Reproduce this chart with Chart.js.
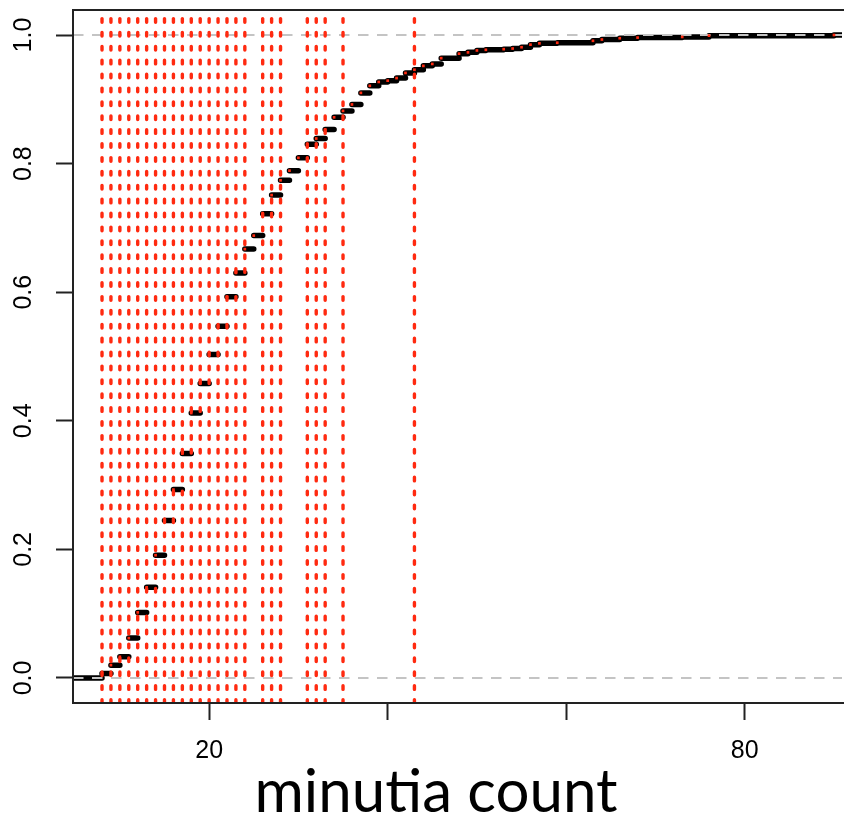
<!DOCTYPE html>
<html><head><meta charset="utf-8">
<script src="https://cdn.jsdelivr.net/npm/chart.js@4/dist/chart.umd.min.js"></script>
<style>html,body{margin:0;padding:0;background:#fff;} canvas{display:block;}</style>
</head><body>
<canvas id="c" width="846" height="823"></canvas>
<script>
// ECDF jump positions (minutia count) and cumulative proportions
const stepX = [8,9,10,11,12,13,14,15,16,17,18,19,20,21,22,23,24,25,26,27,28,29,30,31,32,33,34,35,36,37,38,39,40,41,42,43,44,45,46,48,49,50,51,53,54,55,56,57,59,63,64,66,68,73,76,90];
const stepY = [0.007,0.020,0.033,0.062,0.102,0.141,0.191,0.245,0.293,0.349,0.412,0.458,0.503,0.547,0.593,0.630,0.667,0.688,0.722,0.751,0.774,0.789,0.809,0.830,0.839,0.853,0.872,0.882,0.892,0.910,0.921,0.927,0.929,0.933,0.941,0.946,0.952,0.955,0.964,0.971,0.973,0.976,0.977,0.978,0.979,0.981,0.985,0.987,0.988,0.991,0.993,0.995,0.996,0.997,0.999,1.000];
// red dotted vertical marker lines
const markerX = [8,9,10,11,12,13,14,15,16,17,18,19,20,21,22,23,24,26,27,28,31,32,33,35,43];
// reference lines (gray dashed)
const refLines = [0, 1];
const xTicks = [20, 40, 60, 80];
const xTickLabels = ['20', '', '', '80'];
const yTicks = [0, 0.2, 0.4, 0.6, 0.8, 1.0];
const yTickLabels = ['0.0', '0.2', '0.4', '0.6', '0.8', '1.0'];
const xLabel = 'minutia count';
const X_MIN = 4.75, X_MAX = 90.9, Y_MIN = -0.0389, Y_MAX = 1.0389;

const RED = '#ff2a10';

const stepData = [{x: X_MIN - 5, y: 0}, {x: stepX[0], y: 0}, {x: stepX[0], y: null}];
for (let i = 0; i < stepX.length; i++) {
  const x1 = i + 1 < stepX.length ? stepX[i + 1] : X_MAX + 5;
  stepData.push({x: stepX[i], y: stepY[i]}, {x: x1, y: stepY[i]}, {x: x1, y: null});
}
const pointData = stepX.map((x, i) => ({x: x, y: stepY[i]}));
const vData = [];
markerX.forEach(v => vData.push({x: v, y: Y_MAX}, {x: v, y: Y_MIN}, {x: v, y: null}));
const refData = [];
refLines.forEach(h => refData.push({x: X_MIN, y: h}, {x: X_MAX, y: h}, {x: X_MAX, y: null}));

Chart.defaults.font.family = 'Liberation Sans';
Chart.defaults.color = '#000';

const framePlugin = {
  id: 'frame',
  afterDraw(chart) {
    const a = chart.chartArea, ctx = chart.ctx;
    ctx.save();
    ctx.strokeStyle = '#222';
    ctx.lineWidth = 2;
    ctx.beginPath();
    ctx.moveTo(a.right + 2, a.top);
    ctx.lineTo(a.left, a.top);
    ctx.lineTo(a.left, a.bottom);
    ctx.lineTo(a.right + 2, a.bottom);
    ctx.stroke();
    ctx.font = '60px Lato';
    ctx.fillStyle = '#000';
    ctx.textAlign = 'center';
    ctx.textBaseline = 'alphabetic';
    ctx.fillText(xLabel, 436, 812);
    ctx.restore();
  }
};

new Chart(document.getElementById('c'), {
  type: 'scatter',
  data: {
    datasets: [
      {data: pointData, showLine: false, pointStyle: 'rect', pointRadius: 1.9, pointBackgroundColor: RED, pointBorderWidth: 0},
      {data: vData, showLine: true, spanGaps: false, borderColor: RED, borderWidth: 3.4, borderDash: [3.6, 10.3], borderDashOffset: 5.3, borderCapStyle: 'round', pointRadius: 0},
      {data: refData, showLine: true, spanGaps: false, borderColor: '#c4c4c4', borderWidth: 2, borderDash: [10.5, 8.5], pointRadius: 0},
      {data: stepData, showLine: true, spanGaps: false, borderColor: '#000', borderWidth: 5.5, borderCapStyle: 'round', pointRadius: 0}
    ]
  },
  options: {
    responsive: false,
    animation: false,
    devicePixelRatio: 1,
    layout: {padding: {top: 10, left: 0, right: 0, bottom: 0}},
    plugins: {legend: {display: false}, tooltip: {enabled: false}},
    scales: {
      x: {
        type: 'linear', min: X_MIN, max: X_MAX,
        afterBuildTicks: s => { s.ticks = xTicks.map(v => ({value: v})); },
        afterFit: s => { s.height = 120; s.paddingLeft = 0; s.paddingRight = 0; s.paddingTop = 0; s.paddingBottom = 0; },
        grid: {drawOnChartArea: false, drawTicks: true, tickLength: 17, tickColor: '#222', tickWidth: 2, color: '#222'},
        border: {display: false},
        ticks: {autoSkip: false, maxRotation: 0, minRotation: 0, padding: 16, font: {size: 25},
          callback: (v) => { const i = xTicks.indexOf(v); return i >= 0 ? xTickLabels[i] : ''; }}
      },
      y: {
        type: 'linear', min: Y_MIN, max: Y_MAX,
        afterBuildTicks: s => { s.ticks = yTicks.map(v => ({value: v})); },
        afterFit: s => { s.width = 73; s.paddingLeft = 0; s.paddingRight = 0; s.paddingTop = 0; s.paddingBottom = 0; },
        grid: {drawOnChartArea: false, drawTicks: true, tickLength: 17, tickColor: '#222', tickWidth: 2, color: '#222'},
        border: {display: false},
        ticks: {autoSkip: false, minRotation: 90, maxRotation: 90, crossAlign: 'center', padding: 14.6, font: {size: 25},
          callback: (v) => { const i = yTicks.findIndex(t => Math.abs(t - v) < 1e-9); return i >= 0 ? yTickLabels[i] : ''; }}
      }
    }
  },
  plugins: [framePlugin]
});
</script>
</body></html>
